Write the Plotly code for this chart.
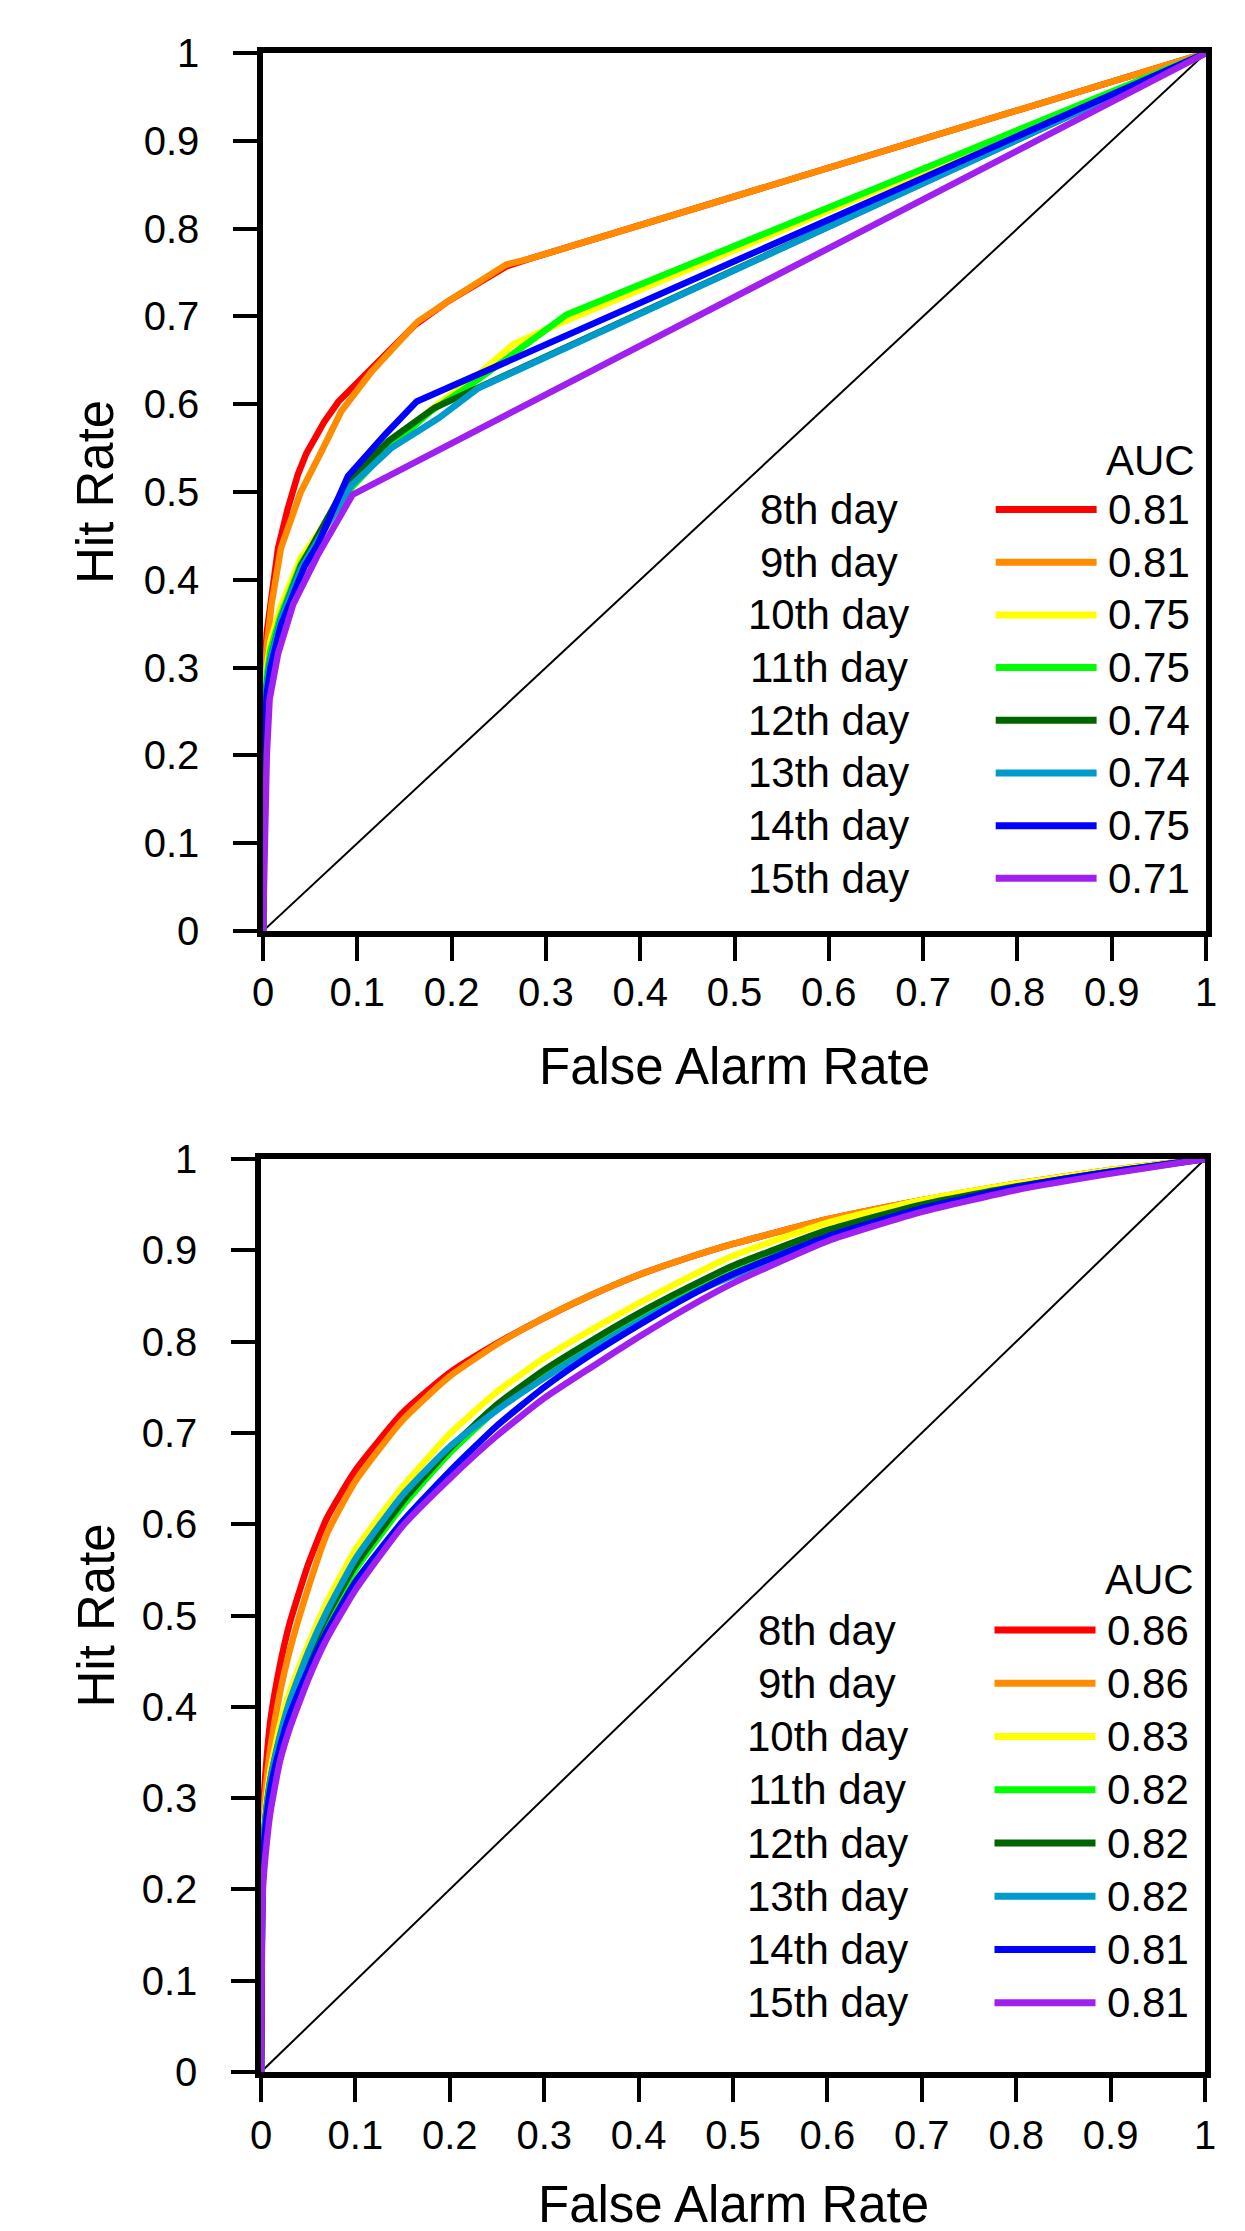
import plotly.graph_objects as go

# ---------------- data ----------------
days = ["8th day", "9th day", "10th day", "11th day", "12th day", "13th day", "14th day", "15th day"]
colors = ["#FF0000", "#FF8C00", "#FFFF00", "#00FF00", "#006400", "#009ACD", "#0000FF", "#A020F0"]
auc_top = ["0.81", "0.81", "0.75", "0.75", "0.74", "0.74", "0.75", "0.71"]
auc_bottom = ["0.86", "0.86", "0.83", "0.82", "0.82", "0.82", "0.81", "0.81"]
tick_vals = [0, 0.1, 0.2, 0.3, 0.4, 0.5, 0.6, 0.7, 0.8, 0.9, 1]
tick_text = ["0", "0.1", "0.2", "0.3", "0.4", "0.5", "0.6", "0.7", "0.8", "0.9", "1"]
diag = [0, 1]

# top panel (x = false alarm rate, y = hit rate)
top_x_8 = [0, 0.001, 0.004, 0.009, 0.016, 0.026, 0.037, 0.046, 0.065, 0.080, 0.094, 0.118, 0.161, 0.196, 0.258, 0.284, 1]
top_y_8 = [0, 0.28, 0.34, 0.385, 0.436, 0.48, 0.52, 0.544, 0.58, 0.603, 0.618, 0.643, 0.69, 0.717, 0.757, 0.766, 1]
top_x_9 = [0, 0.001, 0.004, 0.009, 0.019, 0.04, 0.062, 0.083, 0.115, 0.164, 0.196, 0.258, 0.284, 1]
top_y_9 = [0, 0.27, 0.324, 0.372, 0.436, 0.50, 0.546, 0.592, 0.637, 0.694, 0.717, 0.759, 0.766, 1]
top_x_10 = [0, 0.001, 0.004, 0.008, 0.019, 0.04, 0.058, 0.094, 0.136, 0.178, 0.228, 0.265, 0.31, 1]
top_y_10 = [0, 0.25, 0.30, 0.33, 0.37, 0.425, 0.452, 0.508, 0.556, 0.594, 0.634, 0.668, 0.69, 1]
top_x_11 = [0, 0.001, 0.004, 0.008, 0.019, 0.04, 0.058, 0.094, 0.136, 0.178, 0.228, 0.281, 0.322, 1]
top_y_11 = [0, 0.24, 0.29, 0.32, 0.36, 0.418, 0.448, 0.505, 0.553, 0.592, 0.628, 0.670, 0.702, 1]
top_x_12 = [0, 0.001, 0.004, 0.008, 0.019, 0.04, 0.058, 0.09, 0.133, 0.182, 1]
top_y_12 = [0, 0.23, 0.28, 0.31, 0.355, 0.415, 0.45, 0.512, 0.558, 0.596, 1]
top_x_13 = [0, 0.001, 0.004, 0.008, 0.019, 0.04, 0.058, 0.094, 0.136, 0.186, 0.228, 1]
top_y_13 = [0, 0.23, 0.28, 0.31, 0.355, 0.412, 0.445, 0.508, 0.55, 0.584, 0.618, 1]
top_x_14 = [0, 0.001, 0.004, 0.008, 0.019, 0.044, 0.058, 0.09, 0.129, 0.163, 1]
top_y_14 = [0, 0.22, 0.27, 0.30, 0.348, 0.415, 0.44, 0.518, 0.565, 0.603, 1]
top_x_15 = [0, 0.002, 0.004, 0.007, 0.016, 0.032, 0.058, 0.095, 1]
top_y_15 = [0, 0.15, 0.20, 0.264, 0.316, 0.372, 0.428, 0.497, 1]

# bottom panel
bot_x = [0, 0.002, 0.005, 0.01, 0.02, 0.03, 0.05, 0.07, 0.1, 0.15, 0.2, 0.25, 0.3, 0.35, 0.4, 0.45, 0.5, 0.6, 0.7, 0.8, 0.9, 1]
bot_y_8 = [0, 0.28, 0.33, 0.385, 0.445, 0.49, 0.556, 0.607, 0.659, 0.722, 0.766, 0.798, 0.826, 0.851, 0.873, 0.891, 0.907, 0.934, 0.955, 0.973, 0.988, 1]
bot_y_9 = [0, 0.27, 0.31, 0.355, 0.415, 0.46, 0.53, 0.59, 0.647, 0.714, 0.762, 0.797, 0.826, 0.851, 0.873, 0.891, 0.907, 0.934, 0.955, 0.973, 0.988, 1]
bot_y_10 = [0, 0.25, 0.29, 0.33, 0.38, 0.415, 0.468, 0.515, 0.572, 0.641, 0.699, 0.745, 0.782, 0.813, 0.842, 0.869, 0.894, 0.930, 0.955, 0.973, 0.988, 1]
bot_y_11 = [0, 0.235, 0.275, 0.315, 0.362, 0.398, 0.45, 0.495, 0.55, 0.62, 0.678, 0.726, 0.764, 0.797, 0.827, 0.854, 0.879, 0.919, 0.948, 0.969, 0.986, 1]
bot_y_12 = [0, 0.24, 0.28, 0.32, 0.366, 0.402, 0.455, 0.50, 0.555, 0.625, 0.683, 0.731, 0.769, 0.801, 0.831, 0.858, 0.883, 0.922, 0.95, 0.97, 0.986, 1]
bot_y_13 = [0, 0.24, 0.28, 0.32, 0.368, 0.405, 0.46, 0.505, 0.562, 0.632, 0.685, 0.725, 0.76, 0.792, 0.822, 0.849, 0.872, 0.912, 0.945, 0.968, 0.985, 1]
bot_y_14 = [0, 0.23, 0.27, 0.31, 0.355, 0.39, 0.44, 0.483, 0.537, 0.603, 0.658, 0.708, 0.75, 0.786, 0.818, 0.848, 0.874, 0.915, 0.946, 0.969, 0.986, 1]
bot_y_15 = [0, 0.20, 0.24, 0.285, 0.34, 0.375, 0.43, 0.475, 0.528, 0.598, 0.65, 0.697, 0.738, 0.772, 0.805, 0.836, 0.864, 0.910, 0.942, 0.966, 0.984, 1]

top_xs = [top_x_8, top_x_9, top_x_10, top_x_11, top_x_12, top_x_13, top_x_14, top_x_15]
top_ys = [top_y_8, top_y_9, top_y_10, top_y_11, top_y_12, top_y_13, top_y_14, top_y_15]
bot_ys = [bot_y_8, bot_y_9, bot_y_10, bot_y_11, bot_y_12, bot_y_13, bot_y_14, bot_y_15]

# ---------------- figure ----------------
W, H = 1245, 2231
FONT = "Liberation Sans, Arial, Helvetica, sans-serif"
fig = go.Figure()

fig.add_trace(go.Scatter(x=diag, y=diag, mode="lines", line=dict(color="black", width=2),
                         xaxis="x", yaxis="y", showlegend=False, hoverinfo="skip"))
for xs, ys, c in zip(top_xs, top_ys, colors):
    fig.add_trace(go.Scatter(x=xs, y=ys, mode="lines", line=dict(color=c, width=6.5),
                             xaxis="x", yaxis="y", showlegend=False))
fig.add_trace(go.Scatter(x=diag, y=diag, mode="lines", line=dict(color="black", width=2),
                         xaxis="x2", yaxis="y2", showlegend=False, hoverinfo="skip"))
for ys, c in zip(bot_ys, colors):
    fig.add_trace(go.Scatter(x=bot_x, y=ys, mode="lines",
                             line=dict(color=c, width=6.5, shape="spline", smoothing=0.5),
                             xaxis="x2", yaxis="y2", showlegend=False))

def px_x(p):
    return p / W

def px_y(p):
    return 1 - p / H

axis_common = dict(range=[0, 1], showline=True, linecolor="black", linewidth=5.5, mirror=True,
                   ticks="outside", ticklen=24, tickwidth=4, tickcolor="black",
                   tickvals=tick_vals, ticktext=tick_text, showgrid=False, zeroline=False,
                   tickfont=dict(family=FONT, size=40, color="black"), automargin=False)

fig.update_layout(
    width=W, height=H, margin=dict(l=0, r=0, t=0, b=0),
    paper_bgcolor="white", plot_bgcolor="white",
    xaxis=dict(domain=[px_x(255), px_x(1198)], anchor="y", ticklabelstandoff=-3, **axis_common),
    yaxis=dict(domain=[px_y(923), px_y(45)], anchor="x", ticklabelstandoff=26, **axis_common),
    xaxis2=dict(domain=[px_x(253), px_x(1197)], anchor="y2", ticklabelstandoff=-1, **axis_common),
    yaxis2=dict(domain=[px_y(2064), px_y(1151)], anchor="x2", ticklabelstandoff=26, **axis_common),
)

annotations = []
shapes = []
title_font = dict(family=FONT, size=51, color="black")
leg_font = dict(family=FONT, size=42, color="black")

panels = [
    dict(xr="x", yr="y", auc=auc_top, row0=0.48, step=0.06, aucy=0.536,
         ytitle_c=(923 + 45) / 2, xtitle_y=1058, xc=(255 + 1198) / 2),
    dict(xr="x2", yr="y2", auc=auc_bottom, row0=0.484, step=0.0583, aucy=0.539,
         ytitle_c=(2064 + 1151) / 2, xtitle_y=2196, xc=(253 + 1197) / 2),
]
for p in panels:
    annotations.append(dict(text="Hit Rate", xref="paper", yref="paper", x=px_x(88), y=px_y(p["ytitle_c"]),
                            xanchor="center", yanchor="middle", textangle=-90, showarrow=False, font=title_font))
    annotations.append(dict(text="False Alarm Rate", xref="paper", yref="paper", x=px_x(p["xc"]), y=px_y(p["xtitle_y"]),
                            xanchor="center", yanchor="middle", showarrow=False, font=title_font))
    annotations.append(dict(text="AUC", xref=p["xr"], yref=p["yr"], x=0.99, y=p["aucy"],
                            xanchor="right", yanchor="middle", showarrow=False, font=leg_font))
    for i, (d, c, a) in enumerate(zip(days, colors, p["auc"])):
        yy = p["row0"] - i * p["step"]
        annotations.append(dict(text=d, xref=p["xr"], yref=p["yr"], x=0.60, y=yy,
                                xanchor="center", yanchor="middle", showarrow=False, font=leg_font))
        annotations.append(dict(text=a, xref=p["xr"], yref=p["yr"], x=0.985, y=yy,
                                xanchor="right", yanchor="middle", showarrow=False, font=leg_font))
        shapes.append(dict(type="line", xref=p["xr"], yref=p["yr"], x0=0.777, x1=0.884, y0=yy, y1=yy,
                           line=dict(color=c, width=7)))

fig.update_layout(annotations=annotations, shapes=shapes)
fig.write_html("out.html")
